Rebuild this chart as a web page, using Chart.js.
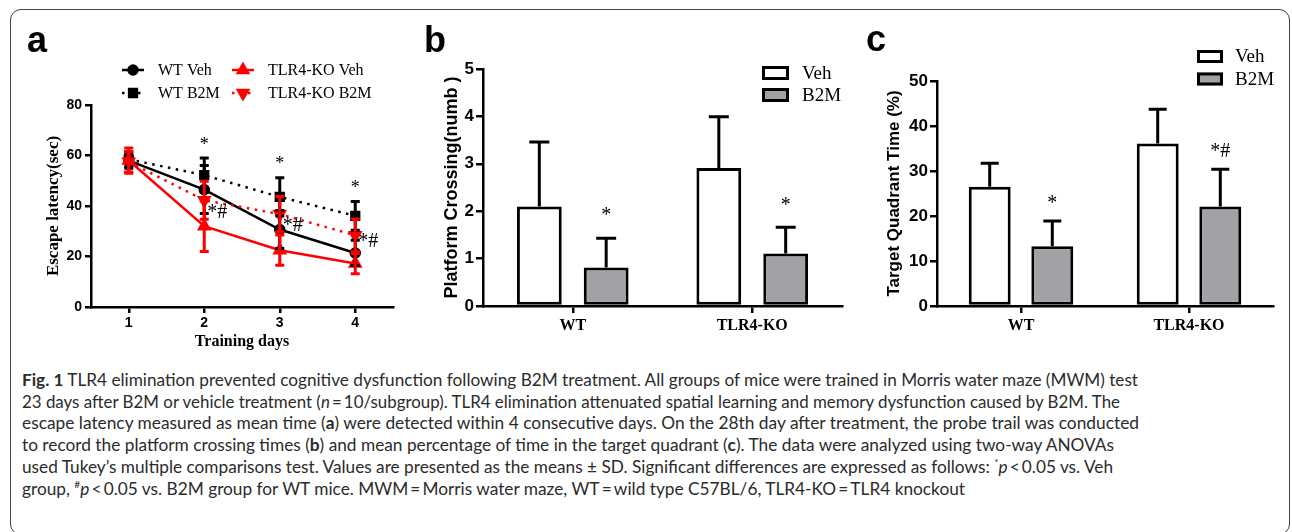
<!DOCTYPE html>
<html>
<head>
<meta charset="utf-8">
<script src="https://cdn.jsdelivr.net/npm/chart.js@4.4.0/dist/chart.umd.min.js"></script>
<style>
html, body { margin: 0; padding: 0; background: #fff; }
body { width: 1292px; height: 532px; position: relative; overflow: hidden; }
.frame { position: absolute; left: 10px; top: 9px; width: 1280px; height: 526px; border: 1.5px solid #444; border-radius: 11px; box-sizing: border-box; }
canvas { position: absolute; top: 0; }
.letter { position: absolute; font: bold 36px "Liberation Sans", Arial, sans-serif; line-height: 36px; color: #000; }
.cap { position: absolute; left: 22px; white-space: nowrap; font: 17px Lato, "Open Sans", sans-serif; line-height: 20px; color: #2b2b2b; transform-origin: 0 0; }
.cap sup { font-size: 10px; line-height: 0; vertical-align: 7px; }
</style>
</head>
<body>
<div class="frame"></div>
<canvas id="ca" width="420" height="360" style="left:0px"></canvas>
<canvas id="cb" width="430" height="360" style="left:420px"></canvas>
<canvas id="cc" width="442" height="360" style="left:850px"></canvas>
<div class="letter" style="left:27px;top:22px">a</div>
<div class="letter" style="left:424px;top:22px">b</div>
<div class="letter" style="left:866px;top:21px">c</div>

<div class="cap" data-w="1116" style="top:370px"><b>Fig. 1</b> TLR4 elimination prevented cognitive dysfunction following B2M treatment. All groups of mice were trained in Morris water maze (MWM) test</div>
<div class="cap" data-w="1098" style="top:392px">23&nbsp;days after B2M or vehicle treatment (<i>n</i>&thinsp;=&thinsp;10/subgroup). TLR4 elimination attenuated spatial learning and memory dysfunction caused by B2M. The</div>
<div class="cap" data-w="1117" style="top:413px">escape latency measured as mean time (<b>a</b>) were detected within 4 consecutive days. On the 28th day after treatment, the probe trail was conducted</div>
<div class="cap" data-w="1092" style="top:435px">to record the platform crossing times (<b>b</b>) and mean percentage of time in the target quadrant (<b>c</b>). The data were analyzed using two-way ANOVAs</div>
<div class="cap" data-w="1091" style="top:457px">used Tukey’s multiple comparisons test. Values are presented as the means ± SD. Significant differences are expressed as follows: <sup>*</sup><i>p</i>&thinsp;&lt;&thinsp;0.05 vs. Veh</div>
<div class="cap" data-w="943" style="top:479px">group, <sup>#</sup><i>p</i>&thinsp;&lt;&thinsp;0.05 vs. B2M group for WT mice. MWM&thinsp;=&thinsp;Morris water maze, WT&thinsp;=&thinsp;wild type C57BL/6, TLR4-KO&thinsp;=&thinsp;TLR4 knockout</div>

<script>
// panel a - escape latency (sec), mean and SD per training day
var days = [1, 2, 3, 4];
var wtVeh = [58, 46.5, 30.7, 21.4];
var wtVehSd = [3, 9.5, 7.5, 5];
var wtB2m = [58.5, 52.2, 43.6, 36.1];
var wtB2mSd = [3, 6.8, 7.6, 5.7];
var koVeh = [58, 32, 22.5, 17.2];
var koVehSd = [5, 10, 6, 4];
var koB2m = [57.5, 42.3, 36.8, 28.4];
var koB2mSd = [4, 7.5, 7, 6.5];
var starMarks = ['', '*', '*', '*'];
var hashDays = [2, 3, 4];
var hashVals = [37.5, 32, 26];
var latencyTicks = [0, 20, 40, 60, 80];

// panel b - platform crossings
var groups = ['WT', 'TLR4-KO'];
var crossVeh = [2.1, 2.91];
var crossVehSd = [1.36, 1.08];
var crossB2m = [0.81, 1.11];
var crossB2mSd = [0.62, 0.55];
var crossMarks = ['*', '*'];

// panel c - target quadrant time (%)
var quadVeh = [26.5, 36.1];
var quadVehSd = [5.2, 7.6];
var quadB2m = [13.3, 22.1];
var quadB2mSd = [5.6, 8.3];
var quadMarks = ['*', '*#'];

var RED = '#ff0000';
var GREY = '#a2a2a6';
var SANS = '"Liberation Sans", Arial, sans-serif';
var SERIF = '"Liberation Serif", "Times New Roman", serif';

function pts(ys) {
  return days.map(function (d, i) { return { x: d, y: ys[i] }; });
}

// SD bars (+ significance marks) drawn from the y scale
var sdPlugin = {
  id: 'sd',
  afterDatasetsDraw: function (chart, args, opt) {
    var ctx = chart.ctx, ys = chart.scales.y;
    chart.data.datasets.forEach(function (ds, di) {
      if (!ds.sd) return;
      var meta = chart.getDatasetMeta(di);
      ctx.save();
      ctx.setLineDash([]);
      ctx.strokeStyle = opt.color || ds.borderColor;
      ctx.lineWidth = opt.width;
      meta.data.forEach(function (el, i) {
        var v = typeof ds.data[i] === 'object' ? ds.data[i].y : ds.data[i];
        var top = ys.getPixelForValue(v + ds.sd[i]);
        var bot = opt.both ? ys.getPixelForValue(v - ds.sd[i]) : el.y;
        var c = opt.cap / 2;
        ctx.beginPath();
        ctx.moveTo(el.x, bot); ctx.lineTo(el.x, top);
        ctx.moveTo(el.x - c, top); ctx.lineTo(el.x + c, top);
        if (opt.both) { ctx.moveTo(el.x - c, bot); ctx.lineTo(el.x + c, bot); }
        ctx.stroke();
        if (ds.marks && ds.marks[i]) {
          ctx.fillStyle = '#000';
          ctx.font = opt.markFont;
          ctx.textAlign = 'center';
          ctx.textBaseline = 'middle';
          ctx.fillText(ds.marks[i], el.x, top - opt.markGap);
        }
      });
      ctx.restore();
    });
  }
};

// free notes placed in data space
var notePlugin = {
  id: 'notes',
  afterDatasetsDraw: function (chart, args, opt) {
    if (!opt.items) return;
    var ctx = chart.ctx;
    ctx.save();
    ctx.fillStyle = '#000';
    ctx.font = opt.font;
    ctx.textAlign = 'left';
    ctx.textBaseline = 'middle';
    opt.items.forEach(function (it) {
      ctx.fillText(it.t, chart.scales.x.getPixelForValue(it.x) + opt.dx, chart.scales.y.getPixelForValue(it.y));
    });
    ctx.restore();
  }
};

// legend for the line panel: line sample + marker + label
var lineKey = {
  id: 'lineKey',
  afterDraw: function (chart, args, opt) {
    if (!opt.items) return;
    var ctx = chart.ctx;
    opt.items.forEach(function (it) {
      var ds = chart.data.datasets[it.ds];
      ctx.save();
      ctx.strokeStyle = ds.borderColor;
      ctx.lineWidth = ds.borderWidth;
      ctx.setLineDash(ds.borderDash || []);
      ctx.beginPath();
      ctx.moveTo(it.x, it.y); ctx.lineTo(it.x + opt.len, it.y);
      ctx.stroke();
      ctx.setLineDash([]);
      ctx.fillStyle = ds.backgroundColor;
      ctx.strokeStyle = ds.borderColor;
      Chart.helpers.drawPoint(ctx, { pointStyle: ds.pointStyle, radius: ds.pointRadius, rotation: ds.pointRotation || 0, borderWidth: 1 }, it.x + opt.len / 2, it.y);
      ctx.fillStyle = '#000';
      ctx.font = opt.font;
      ctx.textAlign = 'left';
      ctx.textBaseline = 'middle';
      ctx.fillText(ds.label, it.x + opt.len + opt.gap, it.y + 1);
      ctx.restore();
    });
  }
};

// legend for the bar panels: boxes stacked vertically
var boxKey = {
  id: 'boxKey',
  afterDraw: function (chart, args, opt) {
    if (opt.x === undefined) return;
    var ctx = chart.ctx;
    chart.data.datasets.forEach(function (ds, i) {
      var y = opt.y + i * opt.row;
      ctx.save();
      ctx.fillStyle = ds.backgroundColor;
      ctx.fillRect(opt.x, y, opt.w, opt.h);
      ctx.strokeStyle = '#000';
      ctx.lineWidth = 3;
      ctx.strokeRect(opt.x + 1.5, y + 1.5, opt.w - 3, opt.h - 3);
      ctx.fillStyle = '#000';
      ctx.font = opt.font;
      ctx.textAlign = 'left';
      ctx.textBaseline = 'middle';
      ctx.fillText(ds.label, opt.x + opt.tx, y + opt.h / 2 + 1);
      ctx.restore();
    });
  }
};

Chart.defaults.color = '#000';

function axisStyle(tl) {
  return {
    grid: { display: true, drawOnChartArea: false, drawTicks: true, tickLength: tl, color: '#000', lineWidth: 2.5 },
    border: { display: true, color: '#000', width: 2.5 }
  };
}

// ---- panel a
var ax = axisStyle(6), ay = axisStyle(6);
new Chart(document.getElementById('ca'), {
  type: 'line',
  data: {
    datasets: [
      { label: 'WT B2M', data: pts(wtB2m), sd: wtB2mSd, marks: starMarks, borderColor: '#000', backgroundColor: '#000', borderWidth: 2.5, borderDash: [2.5, 5.5], pointStyle: 'rect', pointRadius: 5.5, order: 4 },
      { label: 'WT Veh', data: pts(wtVeh), sd: wtVehSd, borderColor: '#000', backgroundColor: '#000', borderWidth: 2.5, pointStyle: 'circle', pointRadius: 4.5, order: 3 },
      { label: 'TLR4-KO B2M', data: pts(koB2m), sd: koB2mSd, borderColor: RED, backgroundColor: RED, borderWidth: 2.5, borderDash: [2.5, 5.5], pointStyle: 'triangle', pointRotation: 180, pointRadius: 6, order: 2 },
      { label: 'TLR4-KO Veh', data: pts(koVeh), sd: koVehSd, borderColor: RED, backgroundColor: RED, borderWidth: 2.5, pointStyle: 'triangle', pointRadius: 6, order: 1 }
    ]
  },
  options: {
    responsive: false,
    animation: false,
    layout: { padding: { left: 43, right: 27, top: 105, bottom: 9 } },
    plugins: {
      legend: { display: false },
      tooltip: { enabled: false },
      sd: { both: true, width: 3, cap: 9, markFont: '18px ' + SERIF, markGap: 13 },
      notes: { font: '20px ' + SERIF, dx: 3, items: hashDays.map(function (d, i) { return { x: d, y: hashVals[i], t: '*#' }; }) },
      lineKey: {
        len: 22, gap: 14, font: '16px ' + SERIF,
        items: [{ ds: 1, x: 122, y: 70 }, { ds: 3, x: 232, y: 70 }, { ds: 0, x: 122, y: 93 }, { ds: 2, x: 232, y: 93 }]
      }
    },
    scales: {
      x: {
        type: 'linear', min: 0.5, max: 4.5,
        afterBuildTicks: function (s) { s.ticks = days.map(function (v) { return { value: v }; }); },
        afterFit: function (s) { s.height = 44; },
        grid: ax.grid, border: ax.border,
        ticks: { color: '#000', padding: 2, font: { family: SANS, weight: 'bold', size: 14 } },
        title: { display: true, text: 'Training days', color: '#000', padding: 0, font: { family: SERIF, weight: 'bold', size: 16 } }
      },
      y: {
        min: 0, max: 80,
        afterBuildTicks: function (s) { s.ticks = latencyTicks.map(function (v) { return { value: v }; }); },
        afterFit: function (s) { s.width = 48; },
        grid: ay.grid, border: ay.border,
        ticks: { color: '#000', padding: 3, font: { family: SANS, weight: 'bold', size: 14 } },
        title: { display: true, text: 'Escape latency(sec)', color: '#000', padding: 0, font: { family: SERIF, weight: 'bold', size: 17 } }
      }
    }
  },
  plugins: [sdPlugin, notePlugin, lineKey]
});

// ---- bar panels
function barChart(id, veh, vehSd, b2m, b2mSd, marks, yMax, yStep, yTitle, titleSize, pad, yW, key, sdCap, markGap) {
  var bx = axisStyle(7), by = axisStyle(7);
  bx.grid.offset = false;
  return new Chart(document.getElementById(id), {
    type: 'bar',
    data: {
      labels: groups,
      datasets: [
        { label: 'Veh', data: veh, sd: vehSd, backgroundColor: '#fff', borderColor: '#000', borderWidth: 3, borderSkipped: false, categoryPercentage: 0.745, barPercentage: 0.67 },
        { label: 'B2M', data: b2m, sd: b2mSd, marks: marks, backgroundColor: GREY, borderColor: '#000', borderWidth: 3, borderSkipped: false, categoryPercentage: 0.745, barPercentage: 0.67 }
      ]
    },
    options: {
      responsive: false,
      animation: false,
      layout: { padding: pad },
      plugins: {
        legend: { display: false },
        tooltip: { enabled: false },
        sd: { both: false, width: 3, cap: sdCap, color: '#000', markFont: '20px ' + SERIF, markGap: markGap },
        boxKey: key
      },
      scales: {
        x: {
          afterFit: function (s) { s.height = 40; },
          grid: bx.grid, border: bx.border,
          ticks: { color: '#000', padding: 3, font: { family: SERIF, weight: 'bold', size: 16 } }
        },
        y: {
          min: 0, max: yMax,
          ticks: { stepSize: yStep, color: '#000', padding: 2, font: { family: SANS, weight: 'bold', size: 17 } },
          afterFit: function (s) { s.width = yW; },
          grid: by.grid, border: by.border,
          title: { display: true, text: yTitle, color: '#000', padding: 0, font: { family: SANS, weight: 'bold', size: titleSize } }
        }
      }
    },
    plugins: [sdPlugin, boxKey]
  });
}

barChart('cb', crossVeh, crossVehSd, crossB2m, crossB2mSd, crossMarks, 5, 1, 'Platform Crossing(numb )', 18,
  { left: 21, right: 8, top: 69, bottom: 14 }, 42,
  { x: 342, y: 66, row: 22, w: 27, h: 14, tx: 40, font: '19px ' + SERIF }, 20, 22);

barChart('cc', quadVeh, quadVehSd, quadB2m, quadB2mSd, quadMarks, 50, 10, 'Target Quadrant Time (%)', 17,
  { left: 34, right: 19, top: 81, bottom: 14 }, 53,
  { x: 347, y: 50, row: 22.5, w: 26, h: 13, tx: 38, font: '19px ' + SERIF }, 18, 17);

// squeeze each caption line to the measured width of the original
function fitCaption() {
  var els = document.querySelectorAll('.cap');
  for (var i = 0; i < els.length; i++) {
    var el = els[i];
    el.style.transform = 'none';
    var w = el.getBoundingClientRect().width;
    el.style.transform = 'scaleX(' + (parseFloat(el.getAttribute('data-w')) / w) + ')';
  }
}
fitCaption();
if (document.fonts && document.fonts.ready) document.fonts.ready.then(fitCaption);
</script>
</body>
</html>
